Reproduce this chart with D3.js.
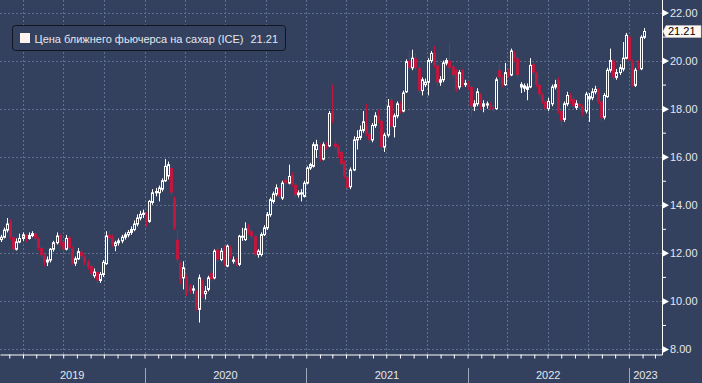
<!DOCTYPE html>
<html><head><meta charset="utf-8">
<script src="https://cdn.jsdelivr.net/npm/d3@7"></script>
<style>html,body{margin:0;padding:0;background:#33415e;overflow:hidden}</style>
</head><body><svg id="c" width="702" height="383"></svg>
<script>
// ---- data ----
const seriesName = "Цена ближнего фьючерса на сахар (ICE)";
const lastLabel = "21.21";
const firstWeek = "2019-02-10";
const yTicks = [8, 10, 12, 14, 16, 18, 20, 22];
const yMinor = [9, 11, 13, 15, 17, 19, 21];
const years = [2019, 2020, 2021, 2022, 2023];

const opens = [
12.55,12.65,12.95,13.3,12.65,12.15,12.45,12.6,12.75,12.6,
12.72,12.8,12.6,12.2,11.9,11.62,11.7,12.15,12.42,12.75,
12.45,12.15,12.65,12.2,11.57,11.75,12.05,11.85,11.62,11.45,
11.05,11.2,10.85,11.1,11.55,12.75,12.66,12.3,12.42,12.5,
12.65,12.75,12.85,12.97,13.2,13.45,13.6,13.62,13.31,14.1,
14.5,14.5,14.65,15.0,15.2,15.53,14.28,12.55,11.59,10.96,
11.0,10.6,10.45,10.41,9.65,10.82,10.3,10.48,11.17,10.96,
12.14,11.72,12.21,11.45,12.21,11.65,11.72,11.52,12.65,12.55,
13.11,12.9,12.69,11.93,11.93,12.76,13.04,13.59,14.14,14.45,
14.7,14.28,15.04,14.9,15.25,14.84,14.42,14.45,14.35,14.9,
15.53,15.6,16.3,16.45,15.9,16.5,16.45,17.9,16.55,16.4,
16.2,15.8,15.15,14.75,15.45,16.7,16.8,17.1,17.3,16.95,
16.7,17.3,17.7,17.5,16.4,16.9,18.35,17.25,17.7,18.2,
17.9,18.7,20.0,19.7,20.1,19.7,18.75,19.0,19.1,20.0,
20.35,19.8,19.1,19.2,19.9,20.0,19.75,19.6,18.9,19.6,
19.0,19.05,18.9,18.1,18.2,18.6,18.1,18.15,18.15,18.05,
18.0,19.6,19.3,19.0,19.55,19.4,20.3,20.1,18.9,18.85,
18.8,18.9,19.85,19.5,19.0,18.6,18.3,18.0,18.2,18.9,
19.2,17.9,17.55,18.2,18.55,18.4,18.05,18.2,18.1,17.9,
18.4,18.45,18.7,18.8,18.3,17.65,18.5,19.6,20.0,19.3,
19.5,19.65,20.1,21.0,20.0,18.97,19.9,19.66,20.97
];
const highs = [
12.75,13.05,13.45,13.4,12.7,12.6,12.8,12.85,12.8,12.85,
12.9,12.85,12.65,12.3,11.95,11.85,12.2,12.5,12.85,12.8,
12.5,12.75,12.7,12.25,11.85,12.2,12.1,11.9,11.7,11.5,
11.35,11.25,11.2,11.7,12.9,12.95,12.75,12.5,12.6,12.75,
12.85,12.95,13.1,13.35,13.6,13.75,13.8,13.7,14.2,14.65,
14.7,14.8,15.1,15.9,15.8,15.6,14.35,12.95,11.65,11.65,
11.1,10.7,10.65,10.45,11.1,10.9,10.62,11.05,11.3,12.15,
12.25,12.2,12.3,12.35,12.3,11.85,11.8,12.75,13.04,13.27,
13.2,12.95,12.75,12.15,12.85,13.15,13.7,14.3,14.55,14.85,
14.8,15.0,15.15,15.67,15.35,14.9,14.6,14.65,15.0,15.6,
15.75,16.6,16.7,16.55,16.6,16.6,17.9,19.0,16.7,16.5,
16.25,15.85,15.2,15.55,16.85,17.1,17.3,17.9,18.2,17.05,
17.4,17.85,17.95,17.55,17.0,18.4,18.45,17.8,18.3,18.3,
18.75,20.05,20.4,20.45,20.3,19.75,19.3,19.25,20.1,20.4,
20.6,19.85,19.35,20.0,20.1,20.7,19.85,19.65,19.6,19.65,
19.2,19.15,18.95,18.35,18.85,18.65,18.35,18.3,18.25,18.15,
19.3,19.9,19.4,19.9,19.65,20.5,20.4,20.15,19.1,19.05,
19.05,20.1,19.95,19.55,19.05,18.65,18.35,18.45,19.0,19.2,
19.3,17.95,18.3,18.7,18.65,18.5,18.35,18.3,18.15,18.7,
18.65,18.85,18.95,18.85,18.35,18.65,19.7,20.5,20.05,19.65,
19.85,20.77,21.15,21.05,20.05,19.7,20.0,21.05,21.35
];
const lows = [
12.45,12.6,12.85,12.55,12.05,12.1,12.4,12.5,12.45,12.55,
12.65,12.5,12.1,11.8,11.45,11.45,11.6,12.05,12.35,12.3,
12.05,12.1,12.1,11.5,11.45,11.7,11.75,11.5,11.3,11.0,
10.95,10.7,10.75,11.0,11.5,12.45,12.25,12.07,12.3,12.4,
12.55,12.65,12.75,12.9,13.1,13.35,13.45,13.1,13.25,14.0,
14.35,14.14,14.55,14.95,15.05,14.4,12.95,11.6,10.7,10.48,
10.2,10.3,10.3,9.6,9.1,10.15,10.06,10.4,10.8,10.9,
11.6,11.65,11.45,11.4,11.75,11.55,11.45,11.45,12.5,12.5,
12.75,12.6,11.85,11.8,11.85,12.7,12.95,13.5,14.05,14.35,
14.25,14.2,14.8,14.85,14.75,14.3,14.3,14.14,14.3,14.85,
15.45,15.55,15.95,15.8,15.85,16.3,16.4,17.4,16.3,15.95,
15.6,15.1,14.6,14.65,15.4,16.3,16.7,17.0,16.85,16.55,
16.6,17.2,17.4,16.25,16.2,16.8,17.15,16.8,17.6,17.8,
17.85,18.65,19.6,19.6,19.6,18.65,18.55,18.9,18.55,19.9,
19.7,18.95,18.95,19.1,19.8,19.6,19.3,18.7,18.8,18.9,
18.9,18.8,17.65,17.9,18.1,17.95,17.85,18.0,17.95,17.85,
17.95,19.2,18.9,18.95,19.3,19.35,19.95,19.3,18.65,18.7,
18.35,18.85,19.4,18.9,18.5,18.2,17.9,17.9,18.1,18.8,
17.8,17.25,17.45,18.1,18.2,18.0,17.95,17.95,17.7,17.8,
17.45,18.35,18.6,18.2,17.45,17.55,18.45,19.5,19.2,19.2,
19.4,19.55,20.05,19.9,18.9,18.9,19.6,19.6,20.9
];
const closes = [
12.65,12.95,13.2,12.65,12.15,12.45,12.6,12.75,12.6,12.72,
12.8,12.6,12.2,11.9,11.62,11.7,12.15,12.42,12.7,12.45,
12.15,12.6,12.2,11.57,11.75,12.05,11.85,11.62,11.4,11.12,
11.2,10.85,11.1,11.6,12.7,12.6,12.35,12.42,12.5,12.65,
12.75,12.85,12.97,13.2,13.45,13.6,13.65,13.31,14.14,14.5,
14.55,14.7,15.0,15.6,15.67,14.5,13.04,11.72,10.89,11.38,
10.34,10.41,10.5,9.72,10.96,10.27,10.4,10.96,10.89,12.07,
11.72,12.07,11.52,12.28,11.86,11.7,11.55,12.69,12.69,13.0,
12.83,12.69,11.93,12.07,12.76,13.04,13.59,14.21,14.45,14.7,
14.35,14.9,14.9,15.18,14.84,14.42,14.49,14.5,14.9,15.53,
15.67,16.5,16.5,15.9,16.5,16.45,17.8,17.5,16.4,16.1,
15.7,15.2,14.7,15.45,16.7,16.8,17.1,17.45,16.95,16.7,
17.3,17.7,17.5,16.4,16.9,18.1,17.25,17.7,18.2,17.9,
18.65,19.95,19.7,20.1,19.7,18.75,19.2,19.1,20.0,20.3,
19.8,19.1,19.2,19.9,20.0,19.7,19.4,18.8,19.5,19.0,
19.05,18.9,18.1,18.2,18.7,18.1,18.2,18.2,18.05,18.0,
19.2,19.3,19.0,19.5,19.4,20.4,20.1,19.4,19.0,18.95,
18.9,19.8,19.5,19.0,18.6,18.3,18.0,18.3,18.9,19.0,
17.9,17.5,18.2,18.55,18.3,18.1,18.2,18.1,17.85,18.6,
18.5,18.7,18.8,18.3,17.6,18.55,19.6,20.0,19.3,19.5,
19.7,20.1,21.05,20.0,18.97,19.6,19.7,20.97,21.21
];

// ---- layout ----
const BG = "#33415e", GRID = "#5f6f90", TXT = "#e4e7ee", UP = "#ffffff", DOWN = "#c0173f";
const FONT = "'Liberation Sans', Arial, sans-serif";
const plotR = 662, plotB = 354;
const parse = d3.timeParse("%Y-%m-%d");
const t0 = parse(firstWeek);
const data = closes.map((c, i) => ({date: d3.timeWeek.offset(t0, i), o: opens[i], h: highs[i], l: lows[i], c}));

const x = d3.scaleTime().domain([parse("2019-02-08"), parse("2023-03-17")]).range([0, plotR]);
const y = d3.scaleLinear().domain([8, 22]).range([349, 12.5]);

const svg = d3.select("#c");
svg.append("rect").attr("width", 702).attr("height", 383).attr("fill", BG);

// grid
const [d0, d1] = x.domain();
const quarters = d3.timeMonth.every(3).range(d0, d1);
svg.append("g").selectAll("line").data(quarters).join("line")
  .attr("x1", d => Math.round(x(d)) + 0.5).attr("x2", d => Math.round(x(d)) + 0.5)
  .attr("y1", 0).attr("y2", plotB)
  .attr("stroke", GRID).attr("stroke-dasharray", "2,2");
svg.append("g").selectAll("line").data(yTicks).join("line")
  .attr("x1", 0).attr("x2", plotR)
  .attr("y1", d => Math.round(y(d)) + 0.5).attr("y2", d => Math.round(y(d)) + 0.5)
  .attr("stroke", GRID).attr("stroke-dasharray", "2,2");

// candles
const g = svg.append("g");
data.forEach(d => {
  const px = Math.round(x(d.date));
  const up = d.c >= d.o;
  const top = y(Math.max(d.o, d.c)), bot = y(Math.min(d.o, d.c));
  const col = up ? UP : DOWN;
  g.append("line").attr("x1", px + 0.5).attr("x2", px + 0.5)
    .attr("y1", y(d.h)).attr("y2", top).attr("stroke", col);
  g.append("line").attr("x1", px + 0.5).attr("x2", px + 0.5)
    .attr("y1", bot).attr("y2", y(d.l)).attr("stroke", col);
  if (up) {
    g.append("rect").attr("x", px - 0.5).attr("width", 2)
      .attr("y", top).attr("height", Math.max(0.5, bot - top))
      .attr("fill", "none").attr("stroke", UP).attr("stroke-width", 1);
  } else {
    g.append("rect").attr("x", px - 1).attr("width", 3)
      .attr("y", top).attr("height", Math.max(1, bot - top))
      .attr("fill", DOWN);
  }
});

// bottom axis (monthly ticks)
const xAxis = d3.axisBottom(x).ticks(d3.timeMonth.every(1)).tickSize(4).tickSizeOuter(0).tickFormat("");
const gx = svg.append("g").attr("transform", `translate(0,${plotB + 0.5})`).call(xAxis);
gx.select(".domain").attr("stroke", "#ffffff");
gx.selectAll(".tick line").attr("stroke", "#ffffff");

// year separators and labels
const yearStarts = d3.timeYear.range(d0, d1);
svg.append("g").selectAll("line").data(yearStarts).join("line")
  .attr("x1", d => Math.round(x(d)) + 0.5).attr("x2", d => Math.round(x(d)) + 0.5)
  .attr("y1", 368).attr("y2", 383).attr("stroke", "#9ea8bb");
svg.append("g").selectAll("text").data(years).join("text")
  .attr("x", yr => {
    const a = Math.max(x(new Date(yr, 0, 1)), 0);
    const b = Math.min(x(new Date(yr + 1, 0, 1)), plotR);
    return (a + b) / 2;
  })
  .attr("y", 379).attr("text-anchor", "middle")
  .attr("fill", TXT).attr("font-family", FONT).attr("font-size", 11)
  .text(yr => yr);

// right axis
svg.append("line").attr("x1", plotR + 0.5).attr("x2", plotR + 0.5).attr("y1", 0).attr("y2", plotB + 1)
  .attr("stroke", "#ffffff");
const yMinorAxis = d3.axisRight(y).tickValues(yMinor).tickSize(4).tickFormat("");
const gym = svg.append("g").attr("transform", `translate(${plotR},0)`).call(yMinorAxis);
gym.select(".domain").remove();
gym.selectAll(".tick line").attr("stroke", "#ffffff");
const yAxis = d3.axisRight(y).tickValues(yTicks).tickSize(0).tickPadding(8).tickFormat(d3.format(".2f"));
const gy = svg.append("g").attr("transform", `translate(${plotR},0)`).call(yAxis);
gy.select(".domain").remove();
gy.selectAll(".tick text").attr("fill", TXT).attr("font-family", FONT).attr("font-size", 11);
gy.selectAll(".tick").append("path").attr("d", "M0.5,-3.5L7,0L0.5,3.5Z").attr("fill", "#ffffff");

// last price tag
const lastY = y(closes[closes.length - 1]);
svg.append("path")
  .attr("d", `M${plotR + 1},${lastY} L${plotR + 4},${lastY - 6} L701,${lastY - 6} L701,${lastY + 6} L${plotR + 4},${lastY + 6} Z`)
  .attr("fill", "#fff8f2").attr("stroke", "#d0d0d0").attr("stroke-width", 0.5);
svg.append("text").attr("x", plotR + 6).attr("y", lastY + 4)
  .attr("fill", "#000000").attr("font-family", FONT).attr("font-size", 11)
  .text(lastLabel);

// legend
svg.append("rect").attr("x", 12.5).attr("y", 25.5).attr("width", 273).attr("height", 25).attr("rx", 3)
  .attr("fill", BG).attr("stroke", "#111520");
svg.append("rect").attr("x", 20).attr("y", 33).attr("width", 10).attr("height", 10).attr("fill", "#fff3ef");
const lt = svg.append("text").attr("x", 34.5).attr("y", 42.5)
  .attr("fill", TXT).attr("font-family", FONT).attr("font-size", 11);
lt.append("tspan").text(seriesName);
lt.append("tspan").attr("dx", 7).text(lastLabel);
</script></body></html>
